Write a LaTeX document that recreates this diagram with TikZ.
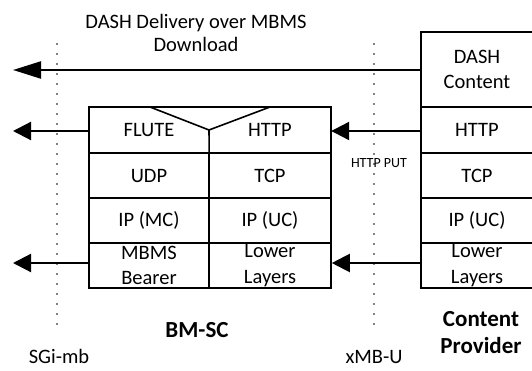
\documentclass[tikz,border=0pt]{standalone}
\usepackage{fontspec}
\setmainfont{Carlito}
\usetikzlibrary{arrows.meta}
\tikzset{
  cell/.style={draw, line width=1.6pt, inner sep=0pt, align=center, minimum height=45pt,
               font=\fontsize{20.5}{25.5}\selectfont},
  bare/.style={inner sep=0pt, align=center, minimum height=45pt, font=\fontsize{20.5}{25.5}\selectfont},
  arr/.style={line width=2.2pt, -{Triangle[length=18pt,width=18pt]}},
  bigarr/.style={line width=2.2pt, -{Triangle[length=28pt,width=17pt]}},
  dotline/.style={line width=1.6pt, line cap=round, dash pattern=on 0pt off 10pt},
  lbl/.style={inner sep=0pt, align=center, font=\fontsize{20.5}{23}\selectfont},
  boldlbl/.style={inner sep=0pt, align=center, font=\fontsize{23}{27}\selectfont\bfseries},
  outline/.style={line width=1.6pt}
}
\begin{document}
\begin{tikzpicture}[x=1pt,y=-1pt]
\useasboundingbox (0,0) rectangle (532,371);
% dotted reference points
\coordinate (sgiT) at (57,44);
\coordinate (sgiB) at (57,333);
\coordinate (xmbT) at (374,44);
\coordinate (xmbB) at (374,333);
\draw[dotline] (sgiT) -- (sgiB);
\draw[dotline] (xmbT) -- (xmbB);
% BM-SC stack
\node[bare, minimum width=120pt, minimum height=46pt] (flute) at (149,130) {FLUTE};
\node[bare, minimum width=122pt, minimum height=46pt] (http1) at (270,130) {HTTP};
\node[cell, minimum width=120pt] (udp) at (149,175.5) {UDP};
\node[cell, minimum width=122pt] (tcp1) at (270,175.5) {TCP};
\node[cell, minimum width=120pt] (ipmc) at (149,220.5) {IP (MC)};
\node[cell, minimum width=122pt] (ipuc1) at (270,220.5) {IP (UC)};
\node[cell, minimum width=120pt] (mbms) at (149,265.5) {\raisebox{0pt}[0pt][0pt]{}MBMS\\Bearer};
\node[cell, minimum width=122pt] (low1) at (270,265.5) {Lower\\Layers};
\draw[outline] (flute.south west) -- (flute.north west) -- (http1.north east) -- (http1.south east);
\coordinate (vtip) at (209,130);
\draw[outline, line join=round] (150,107) -- (vtip) -- (270,107);
\draw[outline] (vtip) -- (flute.south east);
% Content provider stack
\node[cell, minimum width=112pt, minimum height=75pt] (dash) at (477,69.5) {DASH\\Content};
\node[cell, minimum width=112pt, minimum height=46pt] (http2) at (477,130) {HTTP};
\node[cell, minimum width=112pt] (tcp2) at (477,175.5) {TCP};
\node[cell, minimum width=112pt] (ipuc2) at (477,220.5) {IP (UC)};
\node[cell, minimum width=112pt] (low2) at (477,265.5) {Lower\\Layers};
% arrow ends
\coordinate (e1) at (13,70);
\coordinate (e2) at (13,131);
\coordinate (e3) at (13,263);
\draw[bigarr] (dash.west |- e1) -- (e1);
\draw[arr] (flute.west |- e2) -- (e2);
\draw[arr] (mbms.west |- e3) -- (e3);
\draw[arr] (http2.west |- e2) -- (http1.east |- e2);
\draw[arr] (low2.west |- e3) -- (low1.east |- e3);
% labels
\node[lbl] (title) at (196,32.5) {DASH Delivery over MBMS\\Download};
\node[inner sep=0pt, font=\fontsize{14}{16}\selectfont] (put) at (379,163) {HTTP PUT};
\node[boldlbl] (bmsc) at (197,330) {BM-SC};
\node[boldlbl] (cp) at (481,333) {Content\\Provider};
\node[lbl] (sgi) at (59,356) {SGi-mb};
\node[lbl] (xmb) at (374,357) {xMB-U};
\end{tikzpicture}
\end{document}
